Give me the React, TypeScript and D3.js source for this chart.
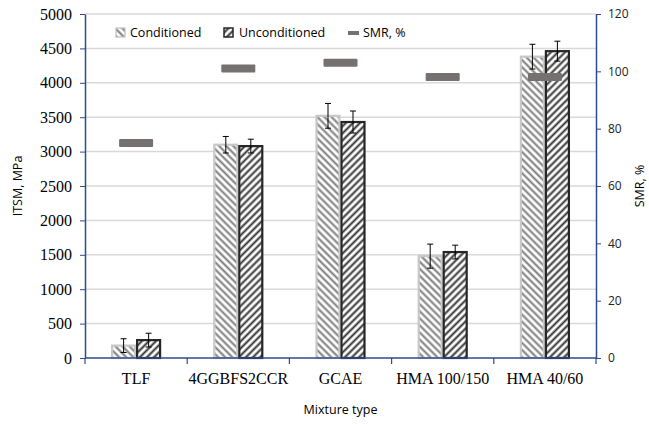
import React, { useEffect, useRef } from 'react';
import * as d3 from 'd3';

const categories = ['TLF', '4GGBFS2CCR', 'GCAE', 'HMA 100/150', 'HMA 40/60'];
const conditioned = [180, 3100, 3520, 1480, 4380];
const conditionedErr = [100, 120, 180, 175, 180];
const unconditioned = [260, 3080, 3430, 1540, 4460];
const unconditionedErr = [100, 100, 160, 100, 145];
const smr = [75, 101, 103, 98, 98];
const leftTicks = [0, 500, 1000, 1500, 2000, 2500, 3000, 3500, 4000, 4500, 5000];
const rightTicks = [0, 20, 40, 60, 80, 100, 120];

const AXIS = '#2f4b8a';
const SMR_COLOR = '#767171';

const App: React.FC = () => {
  const svgRef = useRef<SVGSVGElement>(null);

  useEffect(() => {
    if (!svgRef.current) return;
    const svg = d3.select(svgRef.current);
    svg.selectAll('*').remove();

    const margin = { top: 14, right: 53, bottom: 66, left: 85 };
    const W = 649, H = 424;
    const width = W - margin.left - margin.right;
    const height = H - margin.top - margin.bottom;

    const defs = svg.append('defs');
    const hatch = (id: string, angle: number, color: string, w: number) => {
      const p = defs.append('pattern')
        .attr('id', id)
        .attr('patternUnits', 'userSpaceOnUse')
        .attr('width', 5).attr('height', 5)
        .attr('patternTransform', `rotate(${angle})`);
      p.append('rect').attr('width', 5).attr('height', 5).attr('fill', '#fff');
      p.append('line').attr('x1', 1.5).attr('y1', 0).attr('x2', 1.5).attr('y2', 5)
        .attr('stroke', color).attr('stroke-width', w);
    };
    hatch('hatch-cond', -45, '#7a7a7a', 2);
    hatch('hatch-uncond', 45, '#333', 2);

    const g = svg.append('g').attr('transform', `translate(${margin.left},${margin.top})`);

    const x = d3.scaleBand().domain(categories).range([0, width]);
    const y = d3.scaleLinear().domain([0, 5000]).range([height, 0]);
    const y2 = d3.scaleLinear().domain([0, 120]).range([height, 0]);
    const barW = 25;

    // gridlines
    g.selectAll('.grid').data(leftTicks.filter(t => t > 0)).enter()
      .append('line')
      .attr('x1', 0).attr('x2', width)
      .attr('y1', d => y(d)).attr('y2', d => y(d))
      .attr('stroke', '#d9d9d9').attr('stroke-width', 1.5);

    // bars
    const series = [
      { vals: conditioned, errs: conditionedErr, fill: 'url(#hatch-cond)', stroke: '#c8c8c8', off: -barW },
      { vals: unconditioned, errs: unconditionedErr, fill: 'url(#hatch-uncond)', stroke: '#262626', off: 0 },
    ];
    series.forEach(s => {
      g.selectAll(null).data(categories).enter()
        .append('rect')
        .attr('x', d => (x(d) as number) + x.bandwidth() / 2 + s.off + 1)
        .attr('y', (d, i) => y(s.vals[i]))
        .attr('width', barW - 2)
        .attr('height', (d, i) => height - y(s.vals[i]))
        .attr('fill', s.fill)
        .attr('stroke', s.stroke)
        .attr('stroke-width', 2.2);

      // error bars
      categories.forEach((c, i) => {
        const cx = (x(c) as number) + x.bandwidth() / 2 + s.off + barW / 2;
        const top = y(s.vals[i] + s.errs[i]);
        const bot = y(s.vals[i] - s.errs[i]);
        const eg = g.append('g').attr('stroke', '#000').attr('stroke-width', 1);
        eg.append('line').attr('x1', cx).attr('x2', cx).attr('y1', top).attr('y2', bot);
        eg.append('line').attr('x1', cx - 3).attr('x2', cx + 3).attr('y1', top).attr('y2', top);
        eg.append('line').attr('x1', cx - 3).attr('x2', cx + 3).attr('y1', bot).attr('y2', bot);
      });
    });

    // SMR markers
    g.selectAll('.smr').data(categories).enter()
      .append('rect')
      .attr('x', d => (x(d) as number) + x.bandwidth() / 2 - 17)
      .attr('y', (d, i) => y2(smr[i]) - 4)
      .attr('width', 34).attr('height', 8)
      .attr('rx', 1)
      .attr('fill', SMR_COLOR);

    // left axis
    const la = g.append('g').call(d3.axisLeft(y).tickValues(leftTicks).tickFormat(d3.format('d'))
      .tickSize(5).tickSizeOuter(0).tickPadding(8));
    la.select('.domain').attr('stroke', AXIS).attr('stroke-width', 1.5);
    la.selectAll('line').attr('stroke', AXIS);
    la.selectAll('text').attr('font-family', '"Liberation Serif", serif').attr('font-size', 16).attr('fill', '#000');

    // right axis
    const ra = g.append('g').attr('transform', `translate(${width},0)`)
      .call(d3.axisRight(y2).tickValues(rightTicks).tickSize(5).tickSizeOuter(0).tickPadding(7));
    ra.select('.domain').attr('stroke', AXIS).attr('stroke-width', 1.5);
    ra.selectAll('line').attr('stroke', AXIS);
    ra.selectAll('text').attr('font-family', '"Open Sans", sans-serif').attr('font-size', 12).attr('fill', '#222');

    // bottom axis
    const ba = g.append('g').attr('transform', `translate(0,${height})`);
    ba.append('line').attr('x1', 0).attr('x2', width).attr('stroke', AXIS).attr('stroke-width', 1.5);
    ba.selectAll('.tk').data(d3.range(categories.length + 1)).enter()
      .append('line')
      .attr('x1', i => i * x.bandwidth()).attr('x2', i => i * x.bandwidth())
      .attr('y1', 0).attr('y2', 6)
      .attr('stroke', AXIS).attr('stroke-width', 1.2);
    ba.selectAll('.lbl').data(categories).enter()
      .append('text')
      .attr('x', d => (x(d) as number) + x.bandwidth() / 2)
      .attr('y', 26)
      .attr('text-anchor', 'middle')
      .attr('font-family', '"Liberation Serif", serif')
      .attr('font-size', 16)
      .text(d => d);

    // axis titles
    const sans = '"Open Sans", sans-serif';
    svg.append('text')
      .attr('transform', `translate(22,${margin.top + height / 2}) rotate(-90)`)
      .attr('text-anchor', 'middle')
      .attr('font-family', sans).attr('font-size', 12.5)
      .text('ITSM, MPa');
    svg.append('text')
      .attr('transform', `translate(644,${margin.top + height / 2}) rotate(-90)`)
      .attr('text-anchor', 'middle')
      .attr('font-family', sans).attr('font-size', 12.5)
      .text('SMR, %');
    svg.append('text')
      .attr('x', margin.left + width / 2).attr('y', 414)
      .attr('text-anchor', 'middle')
      .attr('font-family', sans).attr('font-size', 12.5)
      .text('Mixture type');

    // legend
    const lg = svg.append('g').attr('font-family', sans).attr('font-size', 12.5);
    lg.append('rect').attr('x', 116).attr('y', 28).attr('width', 9).attr('height', 9)
      .attr('fill', 'url(#hatch-cond)').attr('stroke', '#bfbfbf').attr('stroke-width', 1.2);
    lg.append('text').attr('x', 130).attr('y', 37).text('Conditioned');
    lg.append('rect').attr('x', 224).attr('y', 28).attr('width', 9).attr('height', 9)
      .attr('fill', 'url(#hatch-uncond)').attr('stroke', '#262626').attr('stroke-width', 1.5);
    lg.append('text').attr('x', 239).attr('y', 37).text('Unconditioned');
    lg.append('rect').attr('x', 348).attr('y', 31).attr('width', 11).attr('height', 4)
      .attr('fill', SMR_COLOR);
    lg.append('text').attr('x', 363).attr('y', 37).text('SMR, %');
  }, []);

  return (
    <svg ref={svgRef} width={649} height={424}
      style={{ position: 'absolute', left: 0, top: 0, background: '#fff' }} />
  );
};

export default App;
